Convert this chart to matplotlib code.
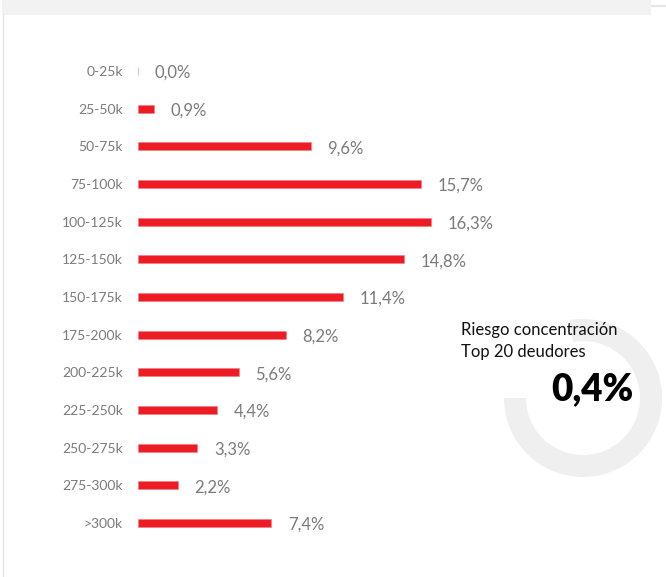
import numpy as np
import matplotlib
matplotlib.use("Agg")
import matplotlib.pyplot as plt
from matplotlib.patches import Wedge, Rectangle

plt.rcParams['font.family'] = ['Lato', 'DejaVu Sans']

# data
tramos = ['0-25k', '25-50k', '50-75k', '75-100k', '100-125k', '125-150k', '150-175k',
          '175-200k', '200-225k', '225-250k', '250-275k', '275-300k', '>300k']
pct = [0.0, 0.9, 9.6, 15.7, 16.3, 14.8, 11.4, 8.2, 5.6, 4.4, 3.3, 2.2, 7.4]
pct_labels = ['0,0%', '0,9%', '9,6%', '15,7%', '16,3%', '14,8%', '11,4%',
              '8,2%', '5,6%', '4,4%', '3,3%', '2,2%', '7,4%']
riesgo_top20 = '0,4%'

RED = '#ED1C24'
GREY_TXT = '#7A7A7A'

W, H = 666, 577
fig = plt.figure(figsize=(W / 100, H / 100), dpi=100)

# background layer in pixel coords (y goes down)
bg = fig.add_axes([0, 0, 1, 1], zorder=0)
bg.set_xlim(0, W)
bg.set_ylim(H, 0)
bg.axis('off')
bg.add_patch(Rectangle((2, 0), 649, 15, color='#F2F2F2', lw=0))
bg.plot([651, 666], [6, 6], color='#E6E6E6', lw=1.6, solid_capstyle='butt')
bg.plot([3, 3], [15, H], color='#E2E2E2', lw=0.9)

# donut, top-left quarter hidden (angles flipped because y axis is inverted)
bg.add_patch(Wedge((583, 398), 79, 260, 540, width=22, color='#EFEFEF', lw=0))
bg.text(461, 335, 'Riesgo concentración', fontsize=12, color='#111111', va='baseline')
bg.text(461, 357, 'Top 20 deudores', fontsize=12, color='#111111', va='baseline')
bg.text(634, 400, riesgo_top20, fontsize=26.5, fontweight='heavy', color='black',
        ha='right', va='baseline')

# bars
row = 37.67
top = 71 - row / 2
bottom = 523 + row / 2
ax = fig.add_axes([138 / W, (H - bottom) / H, (W - 138) / W, (bottom - top) / H], zorder=1)
ax.patch.set_alpha(0)
y = np.arange(len(tramos))
ax.barh(y, pct, height=0.21, color=RED, edgecolor='#F07A80', linewidth=0.4)
ax.set_xlim(0, (W - 138) / 18.0)
ax.set_ylim(len(tramos) - 0.5, -0.5)
ax.set_yticks(y)
ax.set_yticklabels(tramos, fontsize=10, color=GREY_TXT)
ax.tick_params(axis='y', length=0, pad=11)
ax.set_xticks([])
for s in ax.spines.values():
    s.set_visible(False)

for yi, v, lab in zip(y, pct, pct_labels):
    ax.annotate(lab, (v, yi), xytext=(12, -1.5), textcoords='offset points',
                va='center', ha='left', fontsize=12, color=GREY_TXT)

fig.savefig('out.png', dpi=100)
